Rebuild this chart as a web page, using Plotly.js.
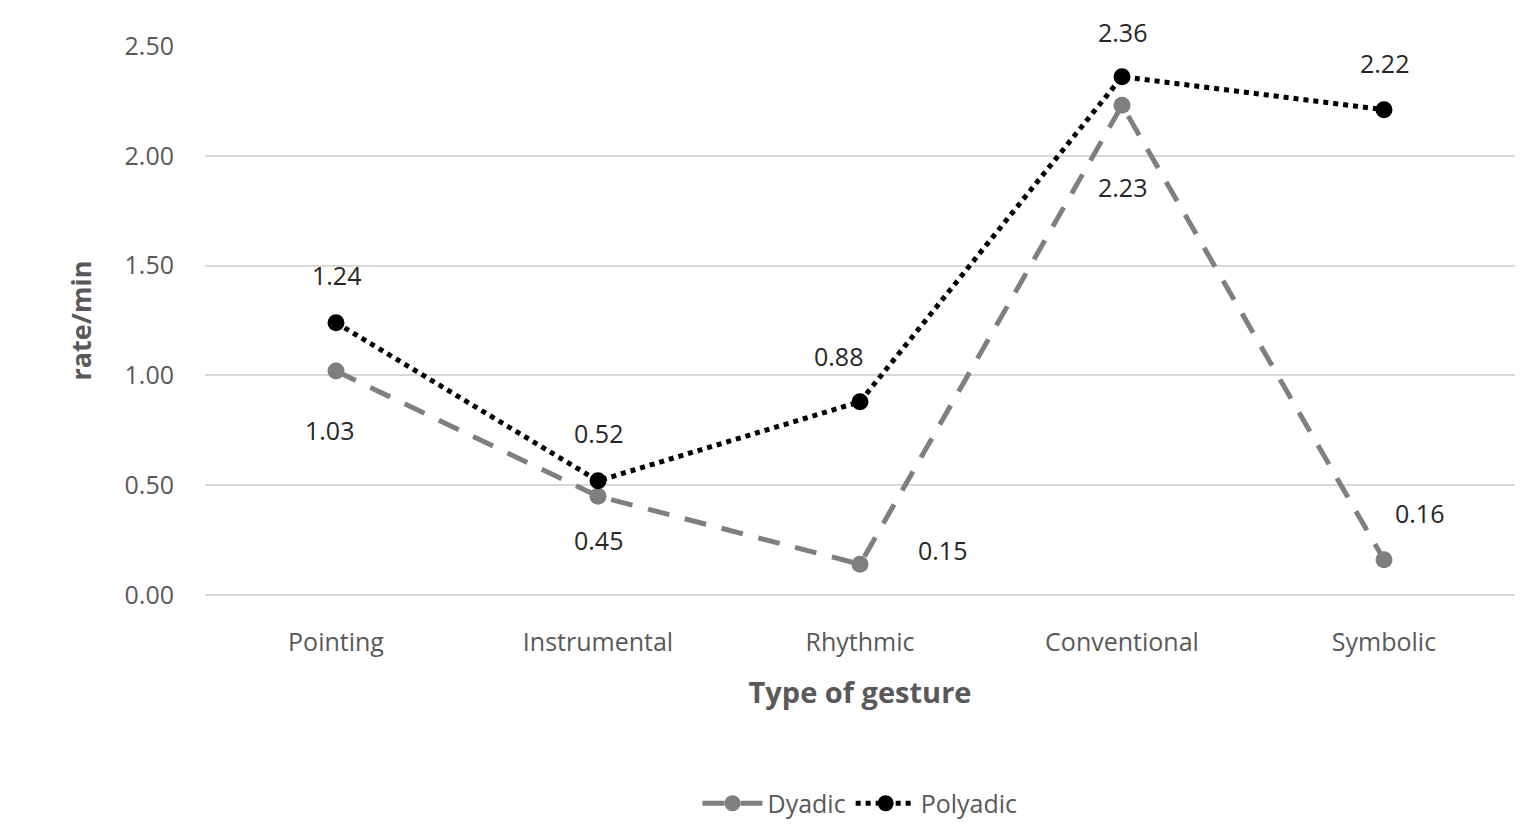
<!DOCTYPE html>
<html><head><script src="https://cdn.plot.ly/plotly-3.0.1.min.js"></script>
<style>body{margin:0}</style></head><body>
<div id="c" style="width:1535px;height:837px"></div>
<script>
const categories=['Pointing','Instrumental','Rhythmic','Conventional','Symbolic'];
const dyadic=[1.02,0.45,0.14,2.23,0.16];
const dyadicLabels=['1.03','0.45','0.15','2.23','0.16'];
const polyadic=[1.24,0.52,0.88,2.36,2.21];
const polyadicLabels=['1.24','0.52','0.88','2.36','2.22'];
// label offsets in pixels (styling)
const dyadicShift=[[-7,-59],[0,-44],[82,14],[0,-82],[35,47]];
const polyadicShift=[[0,48],[0,48],[-22,46],[0,45],[0,47]];
const font={family:'Open Sans, Lato, sans-serif',size:25,color:'#262626'};
const traces=[
{x:categories,y:dyadic,name:'Dyadic',mode:'lines+markers',
 line:{color:'#7f7f7f',width:5,dash:'22px,16px'},marker:{color:'#7f7f7f',size:17}},
{x:categories,y:polyadic,name:'Polyadic',mode:'lines+markers',
 line:{color:'#000',width:5,dash:'dot'},marker:{color:'#000',size:17}}
];
const annotations=[];
categories.forEach((c,i)=>{
 annotations.push({x:c,y:dyadic[i],text:dyadicLabels[i],showarrow:false,xshift:dyadicShift[i][0],yshift:dyadicShift[i][1],font:font});
 annotations.push({x:c,y:polyadic[i],text:polyadicLabels[i],showarrow:false,xshift:polyadicShift[i][0],yshift:polyadicShift[i][1],font:font});
});
const layout={width:1535,height:837,margin:{l:205,r:20,t:46,b:242,autoexpand:false},
 paper_bgcolor:'#fff',plot_bgcolor:'#fff',font:font,showlegend:true,annotations:annotations,
 xaxis:{type:'category',range:[-0.5,4.5],showgrid:false,showline:false,zeroline:false,ticks:'',ticklabelstandoff:30,
  tickfont:{...font,color:'#595959'},title:{text:'<b>Type of gesture</b>',font:{...font,size:29,color:'#595959'},standoff:25}},
 yaxis:{range:[0,2.5],dtick:0.5,tickformat:'.2f',gridcolor:'#d9d9d9',gridwidth:2,zeroline:true,zerolinecolor:'#d9d9d9',zerolinewidth:2,
  ticklabelstandoff:30,tickfont:{...font,color:'#595959'},title:{text:'<b>rate/min</b>',font:{...font,size:27,color:'#595959'},standoff:25}},
 legend:{orientation:'h',x:0.5,xanchor:'center',yref:'container',y:0.04,yanchor:'middle',itemwidth:60,font:{...font,color:'#595959'}}
};
Plotly.newPlot('c',traces,layout,{displayModeBar:false});
</script></body></html>
